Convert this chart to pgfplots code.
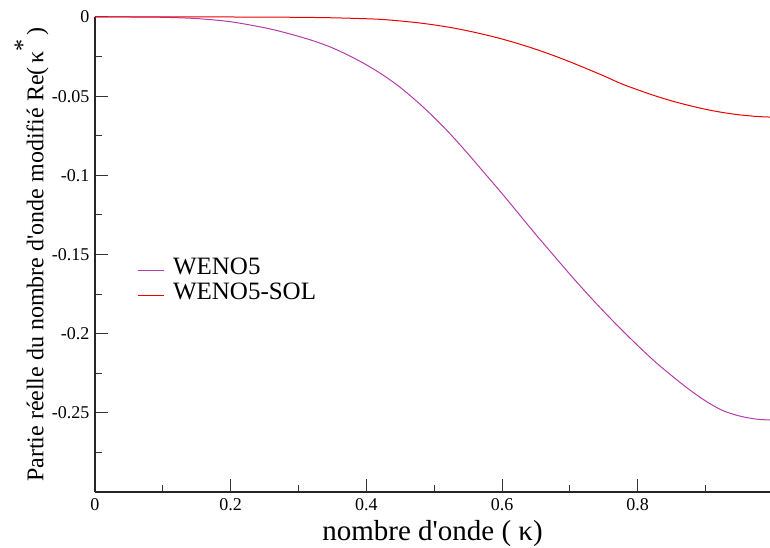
\documentclass[border=0pt]{standalone}
\usepackage{fontspec}
\setmainfont{Liberation Serif}
\usepackage{pgfplots}
\pgfplotsset{compat=1.18}
\definecolor{cWeno}{RGB}{180,60,170}
\definecolor{cSol}{RGB}{235,0,0}
\pgfplotsset{
  shortline/.style={legend image code/.code={\draw[##1] (0pt,0pt) -- (26pt,0pt);}},
}

\begin{document}
\begin{tikzpicture}
\begin{axis}[
  at={(0,0)}, anchor=south west,
  scale only axis, width=675pt, height=475pt,
  xmin=0, xmax=0.995, ymin=-0.3, ymax=0,
  axis x line*=bottom, axis y line*=left,
  axis line style={line width=1.1pt, black!85},
  xtick={0,0.2,0.4,0.6,0.8},
  xticklabels={0,0.2,0.4,0.6,0.8},
  minor xtick={0.1,0.3,0.5,0.7,0.9},
  ytick={0,-0.05,-0.1,-0.15,-0.2,-0.25},
  yticklabels={0,-0.05,-0.1,-0.15,-0.2,-0.25},
  minor ytick={-0.025,-0.075,-0.125,-0.175,-0.225,-0.275},
  tick align=inside,
  major tick length=13pt, minor tick length=7pt,
  every tick/.style={black!80, line width=1pt},
  tick label style={font=\fontsize{18}{20}\selectfont},
  /pgf/number format/assume math mode=true,
  xticklabel style={yshift=-4pt, inner sep=2pt},
  yticklabel style={xshift=-2pt},
  xlabel={nombre d\textquotesingle onde ( κ)},
  xlabel style={at={(axis description cs:0.5,-0.087)}, anchor=center,
    inner sep=0pt, font=\fontsize{29}{32}\selectfont},
  ylabel={Partie réelle du nombre d\textquotesingle onde modifié Re(\,κ\raisebox{0.55em}{*}\,)},
  ylabel style={at={(axis description cs:-0.094,0.5)}, anchor=center,
    font=\fontsize{24}{26}\selectfont},
  legend style={draw=none, fill=none, at={(axis description cs:0.062,0.44)},
    anchor=west, inner sep=0pt, column sep=9pt, row sep=0pt,
    font=\fontsize{25}{27}\selectfont,
    nodes={inner sep=0pt, text height=17pt, text depth=8pt}},
  legend cell align=left,
  shortline,
  clip=true,
]
\addplot[color=cWeno, line width=1pt, smooth] coordinates {
  (0,0) (0.05,0) (0.1,-0.0002) (0.15,-0.0010) (0.2,-0.0030)
  (0.25,-0.0068) (0.275,-0.0093) (0.3,-0.0122) (0.325,-0.0155)
  (0.35,-0.0195) (0.375,-0.0245) (0.4,-0.0302) (0.425,-0.0368)
  (0.45,-0.0445) (0.475,-0.0535) (0.5,-0.0635) (0.525,-0.0745)
  (0.55,-0.0865) (0.575,-0.0990) (0.6,-0.1115) (0.625,-0.1245)
  (0.65,-0.1375) (0.675,-0.1500) (0.7,-0.1625) (0.725,-0.1745)
  (0.75,-0.1860) (0.775,-0.1970) (0.8,-0.2075) (0.825,-0.2175)
  (0.85,-0.2265) (0.875,-0.2350) (0.9,-0.2425) (0.925,-0.2485)
  (0.95,-0.2520) (0.975,-0.2540) (0.995,-0.2545)};
\addlegendentry{WENO5}
\addplot[color=cSol, line width=1pt, smooth] coordinates {
  (0,0) (0.1,0) (0.2,0) (0.25,-0.0001) (0.3,-0.0002) (0.35,-0.0005)
  (0.4,-0.0011) (0.425,-0.0016) (0.45,-0.0025) (0.475,-0.0036)
  (0.5,-0.0050) (0.525,-0.0067) (0.55,-0.0088) (0.575,-0.0112)
  (0.6,-0.0139) (0.625,-0.0170) (0.65,-0.0204) (0.675,-0.0242)
  (0.7,-0.0283) (0.725,-0.0327) (0.75,-0.0372) (0.775,-0.0420)
  (0.8,-0.0460) (0.825,-0.0497) (0.85,-0.0530) (0.875,-0.0558)
  (0.9,-0.0583) (0.925,-0.0603) (0.95,-0.0618) (0.975,-0.0628)
  (0.995,-0.0632)};
\addlegendentry{WENO5-SOL}
\end{axis}
\pgfresetboundingbox
\path[use as bounding box] (-95pt,-56pt) rectangle (675pt,492pt);
\end{tikzpicture}
\end{document}
